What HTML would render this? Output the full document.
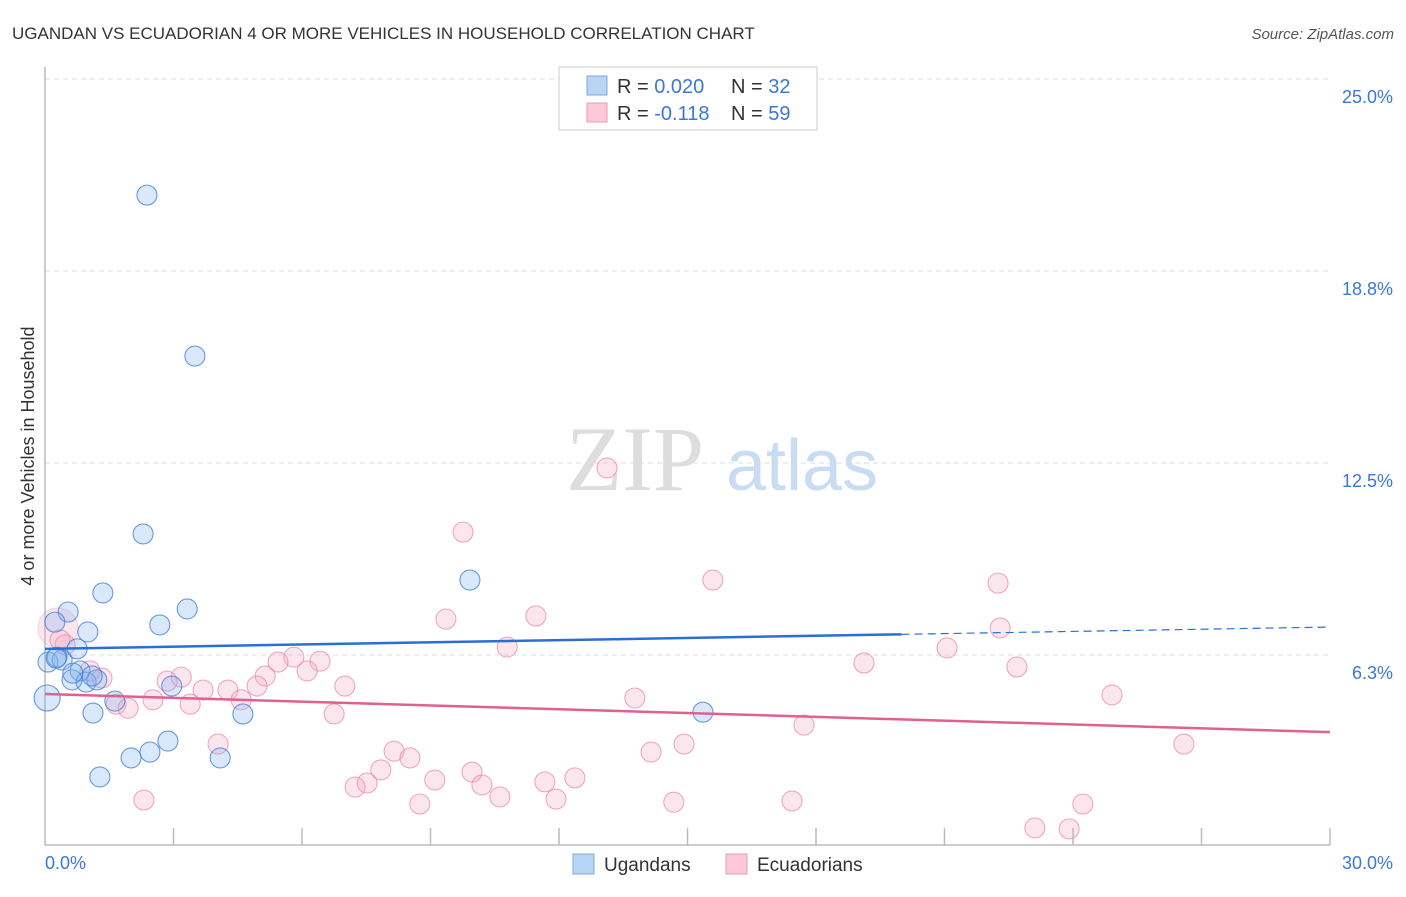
<!DOCTYPE html>
<html><head><meta charset="utf-8"><style>
body{margin:0;background:#fff;font-family:"Liberation Sans",sans-serif;}
svg text{font-family:"Liberation Sans",sans-serif;}
</style></head><body>
<svg id="chart" width="1406" height="892">
<text x="12" y="39" font-size="17" fill="#333">UGANDAN VS ECUADORIAN 4 OR MORE VEHICLES IN HOUSEHOLD CORRELATION CHART</text>
<text x="1394" y="39" font-size="15" fill="#555" font-style="italic" text-anchor="end">Source: ZipAtlas.com</text>
<text transform="translate(34,456) rotate(-90)" font-size="18" fill="#333" text-anchor="middle">4 or more Vehicles in Household</text>
<g>
<text x="635" y="490" font-size="92" fill="#ddd" text-anchor="middle" font-family="Liberation Serif" style="font-family:'Liberation Serif',serif">ZIP</text>
<text x="802" y="490" font-size="72" fill="#c8dcf3" text-anchor="middle">atlas</text>
</g>
<g id="grid"></g>
<g id="axes"></g>
<g id="points"></g>
<g id="trends"></g>
<g>
<rect x="559" y="67" width="258" height="63" fill="#fff" stroke="#ccc"/>
<rect x="587" y="76" width="20" height="19" fill="#b8d4f5" stroke="#7aa9e0"/>
<rect x="587" y="103" width="20" height="19" fill="#fbc9d8" stroke="#eb9ab5"/>
<text x="617" y="93" font-size="20" fill="#333">R = <tspan fill="#3a78d8">0.020</tspan></text>
<text x="731" y="93" font-size="20" fill="#333">N = <tspan fill="#3a78d8">32</tspan></text>
<text x="617" y="120" font-size="20" fill="#333">R = <tspan fill="#3a78d8"> -0.118</tspan></text>
<text x="731" y="120" font-size="20" fill="#333">N = <tspan fill="#3a78d8">59</tspan></text>
</g>
<g>
<rect x="573" y="854" width="21" height="20" fill="#b8d4f5" stroke="#7aa9e0"/>
<text x="604" y="871" font-size="19" fill="#333">Ugandans</text>
<rect x="726" y="854" width="21" height="20" fill="#fbc9d8" stroke="#eb9ab5"/>
<text x="757" y="871" font-size="19" fill="#333">Ecuadorians</text>
</g>
</svg>
<script>
const yTicks=[6.25,12.5,18.75,25];
const yTickLabels=["6.3%","12.5%","18.8%","25.0%"];
const xTickLabels=["0.0%","30.0%"];
const ugX=[2.38,3.50,2.29,9.92,1.35,0.54,3.32,0.23,2.68,1.00,0.75,0.07,0.40,0.28,0.82,0.63,0.96,1.21,1.10,1.63,2.96,0.05,1.12,4.62,15.36,2.87,2.45,2.01,4.09,1.28,0.26,0.65];
const ugY=[21.22,15.98,10.19,8.69,8.27,7.65,7.75,7.32,7.23,7.00,6.45,6.02,6.09,6.18,5.73,5.44,5.37,5.44,5.57,4.75,5.24,4.85,4.36,4.33,4.39,3.45,3.09,2.90,2.90,2.28,6.15,5.66];
const ecX=[13.12,9.76,15.59,22.25,11.46,9.36,22.30,0.30,0.47,10.79,21.06,5.81,6.42,5.44,19.12,22.69,6.12,3.18,5.14,1.33,1.05,2.85,4.95,7.00,4.27,3.69,13.77,24.91,2.52,4.58,3.39,1.66,1.94,6.75,17.72,4.04,26.59,14.92,14.15,8.15,8.52,7.84,9.97,9.10,11.67,12.37,7.52,7.24,10.20,10.62,11.93,2.31,8.75,14.68,17.44,24.23,23.11,23.91,0.35];
const ecY=[12.34,10.25,8.69,8.59,7.52,7.42,7.13,7.13,6.58,6.51,6.48,6.18,6.05,6.02,5.99,5.86,5.73,5.53,5.57,5.50,5.73,5.40,5.24,5.24,5.11,5.11,4.85,4.95,4.79,4.79,4.65,4.65,4.52,4.33,3.97,3.35,3.35,3.35,3.09,3.12,2.90,2.51,2.44,2.18,2.12,2.25,2.08,1.95,2.02,1.63,1.56,1.53,1.40,1.46,1.50,1.40,0.62,0.59,6.74];
const ugTrend=[6.45,7.16];
const ecTrend=[4.98,3.74];
const NS="http://www.w3.org/2000/svg";
const X=v=>45+v/30*1285;
const Y=v=>847-v/6.25*192;
function mk(tag,attrs,parent){const e=document.createElementNS(NS,tag);for(const k in attrs)e.setAttribute(k,attrs[k]);document.getElementById(parent).appendChild(e);return e;}
yTicks.forEach((t,i)=>{
 const l=mk('line',{x1:45,x2:1330,y1:Y(t),y2:Y(t),stroke:'#ddd','stroke-dasharray':'5,4'},'grid');
 
 
 const tx=mk('text',{x:1393,y:Y(t)+24,'font-size':18,fill:'#3a78d8','text-anchor':'end'},'grid');
 tx.textContent=yTickLabels[i];
 
 
});
const ax=mk('line',{x1:45,x2:45,y1:67,y2:845,stroke:'#bbb','stroke-width':1.5},'axes');


const bx=mk('line',{x1:45,x2:1330,y1:845,y2:845,stroke:'#bbb','stroke-width':1.5},'axes');


for(let i=1;i<=10;i++){
 const t=mk('line',{x1:X(i*3),x2:X(i*3),y1:828,y2:845,stroke:'#bbb','stroke-width':1.5},'axes');
 
 
}
[[0,45,'start'],[30,1393,'end']].forEach((d,i)=>{
 const t=mk('text',{x:d[1],y:869,'font-size':18,fill:'#3a78d8','text-anchor':d[2]},'axes');
 t.textContent=xTickLabels[i];
 
 
});
function dots(xs,ys,fill,stroke,name){
 xs.forEach((x,i)=>{
  let r=10, st=stroke;
  if(name==='ecuadorian-point'&&i===7){r=20; st='rgba(235,154,181,0.35)';}
  if(name==='ugandan-point'&&i===21)r=13;
  const c=mk('circle',{cx:X(x),cy:Y(ys[i]),r:r,fill:fill,stroke:st,'stroke-width':1.1},'points');
  
  
 });
}
dots(ecX,ecY,'rgba(246,165,195,0.28)','rgba(232,140,172,0.75)','ecuadorian-point');
dots(ugX,ugY,'rgba(130,178,238,0.3)','rgba(70,130,215,0.8)','ugandan-point');
const ugAt=x=>ugTrend[0]+(ugTrend[1]-ugTrend[0])*x/30;
const l1=mk('line',{x1:X(0),y1:Y(ugAt(0)),x2:X(20),y2:Y(ugAt(20)),stroke:'#2a6fd6','stroke-width':2.5},'trends');


const l2=mk('line',{x1:X(20),y1:Y(ugAt(20)),x2:X(30),y2:Y(ugAt(30)),stroke:'#2a6fd6','stroke-width':1.2,'stroke-dasharray':'8,5'},'trends');


const l3=mk('line',{x1:X(0),y1:Y(ecTrend[0]),x2:X(30),y2:Y(ecTrend[1]),stroke:'#e0608f','stroke-width':2.5},'trends');


</script>
</body></html>
